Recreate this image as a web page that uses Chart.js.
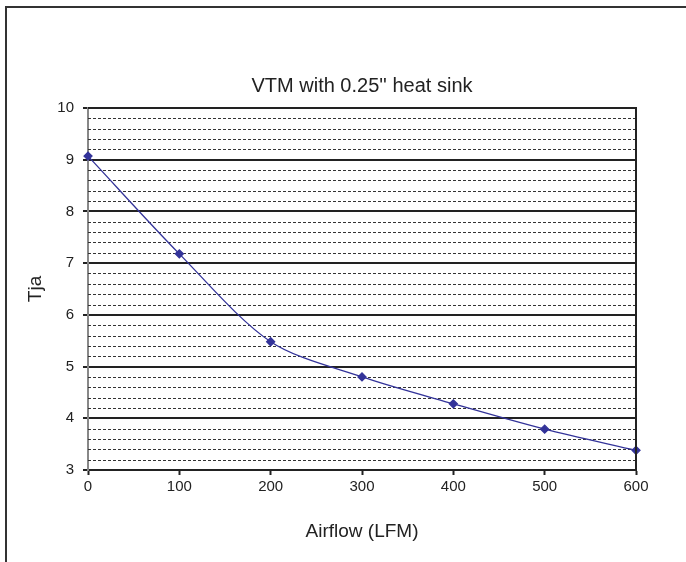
<!DOCTYPE html>
<html>
<head>
<meta charset="utf-8">
<script src="https://cdn.jsdelivr.net/npm/chart.js@4"></script>
<style>
  html, body { margin: 0; padding: 0; background: #fff; }
  #wrap { position: relative; width: 686px; height: 562px; }
  #frame { position: absolute; left: 5px; top: 6px; width: 700px; height: 600px;
           border-top: 2px solid #333; border-left: 2px solid #333; }
  canvas { position: absolute; left: 0; top: 0; }
</style>
</head>
<body>
<div id="wrap">
  <div id="frame"></div>
  <canvas id="chart" width="686" height="562"></canvas>
</div>
<script>
// airflow steps (LFM) and junction-to-ambient values
const airflow = [0, 100, 200, 300, 400, 500, 600];
const tja = [9.07, 7.18, 5.48, 4.8, 4.28, 3.79, 3.38];
const yTicks = [3, 4, 5, 6, 7, 8, 9, 10];
const xTicks = [0, 100, 200, 300, 400, 500, 600];
const chartTitle = "VTM with 0.25'' heat sink";

// dashed minor lines between the whole numbers, the plot box and the title
const minorGrid = {
  id: "minorGrid",
  beforeDatasetsDraw(chart) {
    const ctx = chart.ctx;
    const y = chart.scales.y;
    const area = chart.chartArea;
    ctx.save();
    ctx.strokeStyle = "#333";
    ctx.lineWidth = 1;
    ctx.setLineDash([3, 2]);
    for (let i = 1; i < (yTicks.length - 1) * 5; i++) {
      if (i % 5 === 0) continue;
      const py = Math.round(y.getPixelForValue(yTicks[0] + i / 5)) + 0.5;
      ctx.beginPath();
      ctx.moveTo(area.left, py);
      ctx.lineTo(area.right, py);
      ctx.stroke();
    }
    ctx.restore();
  },
  afterDraw(chart) {
    const ctx = chart.ctx;
    const area = chart.chartArea;
    ctx.save();
    ctx.strokeStyle = "#222";
    ctx.lineWidth = 2;
    ctx.beginPath();
    ctx.moveTo(area.left, area.top);
    ctx.lineTo(area.right, area.top);
    ctx.lineTo(area.right, area.bottom);
    ctx.stroke();
    // title sits centred over the plot area, like the original
    ctx.fillStyle = "#222";
    ctx.font = "20px 'Liberation Sans', Arial";
    ctx.textAlign = "center";
    ctx.textBaseline = "middle";
    ctx.fillText(chartTitle, (area.left + area.right) / 2, 86);
    ctx.restore();
  },
};

const canvas = document.querySelector("#chart");
const chart = new Chart(canvas.getContext("2d"), {
  type: "line",
  data: {
    datasets: [
      {
        label: "Tja",
        data: airflow.map((a, i) => ({ x: a, y: tja[i] })),
        borderColor: "#333399",
        backgroundColor: "#333399",
        borderWidth: 1.3,
        pointStyle: "rectRot",
        pointRadius: 4,
        tension: 0.3,
        clip: false,
      },
    ],
  },
  options: {
    responsive: false,
    animation: false,
    devicePixelRatio: 1,
    layout: { padding: { left: 20, right: 50, top: 108, bottom: 15 } },
    scales: {
      x: {
        type: "linear",
        min: 0,
        max: 600,
        afterBuildTicks(scale) {
          scale.ticks = xTicks.map((v) => ({ value: v }));
        },
        afterFit(scale) {
          scale.height = 77;
        },
        grid: { drawOnChartArea: false, tickLength: 5, tickColor: "#222", tickWidth: 2 },
        border: { color: "#222", width: 2 },
        ticks: {
          color: "#222",
          padding: 3,
          maxRotation: 0,
          font: { family: "Liberation Sans, Arial", size: 15 },
        },
        title: {
          display: true,
          text: "Airflow (LFM)",
          color: "#222",
          font: { family: "Liberation Sans, Arial", size: 19 },
        },
      },
      y: {
        min: 3,
        max: 10,
        afterBuildTicks(scale) {
          scale.ticks = yTicks.map((v) => ({ value: v }));
        },
        afterFit(scale) {
          scale.width = 68;
        },
        grid: { color: "#222", lineWidth: 2, tickLength: 5, tickColor: "#222", tickWidth: 2 },
        border: { color: "#888", width: 2 },
        ticks: {
          color: "#222",
          padding: 9,
          font: { family: "Liberation Sans, Arial", size: 15 },
        },
        title: {
          display: true,
          text: "Tja",
          color: "#222",
          font: { family: "Liberation Sans, Arial", size: 19 },
        },
      },
    },
    plugins: {
      legend: { display: false },
      tooltip: { enabled: false },
      title: { display: false },
    },
  },
  plugins: [minorGrid],
});
</script>
</body>
</html>
